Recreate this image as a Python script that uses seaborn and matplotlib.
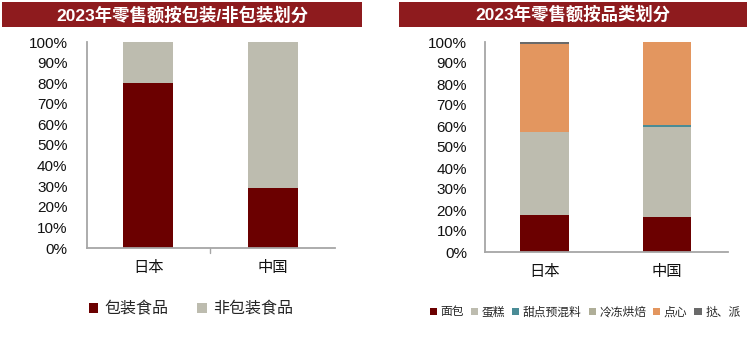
import numpy as np
import pandas as pd
import seaborn as sns
import matplotlib
matplotlib.use("Agg")
import matplotlib.pyplot as plt
from matplotlib.patches import Rectangle, Patch
from matplotlib.ticker import FuncFormatter

# ---- data (% of 2023 retail sales) ----
regions = ["日本", "中国"]

pack_labels = ["包装食品", "非包装食品"]
packaged = [80.0, 29.0]
non_packaged = [20.0, 71.0]

cat_labels = ["面包", "蛋糕", "甜点预混料", "冷冻烘焙", "点心", "挞、派"]
bread = [17.6, 16.8]
cake = [39.7, 42.8]
premix = [0.0, 0.8]
frozen = [0.0, 0.0]
dessert = [41.9, 39.6]
tart = [0.8, 0.0]

titles = ["2023年零售额按包装/非包装划分", "2023年零售额按品类划分"]

# ---- style ----
sns.set_theme(style="white")
plt.rcParams["font.family"] = ["Liberation Sans", "Noto Sans CJK SC", "DejaVu Sans"]

RED_DARK = "#6B0000"
GREY = "#BDBCAF"
pack_colors = [RED_DARK, GREY]
cat_colors = [RED_DARK, GREY, "#4A8C96", "#AFAE98", "#E3965F", "#6A6A6A"]
AXIS_GREY = "#A6A6A6"
TITLE_RED = "#8E1B1E"

W, H = 753, 339
fig = plt.figure(figsize=(W / 100, H / 100), dpi=100)


def px_axes(x0, y0, x1, y1):
    return fig.add_axes([x0 / W, 1 - y1 / H, (x1 - x0) / W, (y1 - y0) / H])


def stacked(ax, series, colors):
    # draw cumulative totals from the top layer down so each segment shows
    cum = np.cumsum(np.array(series), axis=0)
    for i in range(len(series) - 1, -1, -1):
        df = pd.DataFrame({"region": regions, "v": cum[i]})
        sns.barplot(data=df, x="region", y="v", color=colors[i], width=0.4,
                    saturation=1, linewidth=0, ax=ax)


def style_axes(ax, pad, mid_tick):
    ax.set_ylim(0, 100)
    ax.set_xlim(-0.49, 1.5)
    ax.set_yticks(np.arange(0, 101, 10))
    ax.yaxis.set_major_formatter(FuncFormatter(lambda v, p: f"{v:.0f}%"))
    ax.set_xlabel("")
    ax.set_ylabel("")
    for s in ["top", "right"]:
        ax.spines[s].set_visible(False)
    for s in ["left", "bottom"]:
        ax.spines[s].set_color(AXIS_GREY)
        ax.spines[s].set_linewidth(1.3)
    ax.tick_params(axis="y", length=0, pad=pad, labelsize=11, colors="#111111")
    ax.tick_params(axis="x", length=0, pad=8, labelsize=11, colors="#111111")
    for t in ax.get_xticklabels():
        t.set_fontfamily(["Noto Sans CJK SC"])
    if mid_tick:
        ax.plot([0.5, 0.5], [0, -2.5], color=AXIS_GREY, lw=1.0,
                clip_on=False, transform=ax.transData)
    ax.set_facecolor("white")


# left panel
ax1 = px_axes(87, 42, 335, 248)
stacked(ax1, [packaged, non_packaged], pack_colors)
style_axes(ax1, pad=14, mid_tick=True)

# right panel
ax2 = px_axes(485, 42, 728, 252)
stacked(ax2, [bread, cake, premix, frozen, dessert, tart], cat_colors)
style_axes(ax2, pad=13, mid_tick=False)

# title bars
for (x0, x1), title in zip([(2, 362), (399, 747)], titles):
    fig.patches.append(Rectangle((x0 / W, 1 - 27 / H), (x1 - x0) / W, 25 / H,
                                 transform=fig.transFigure, facecolor=TITLE_RED,
                                 edgecolor="none", zorder=0))
    fig.text((x0 + x1) / 2 / W, 1 - 14.5 / H, title, ha="center", va="center",
             color="white", fontsize=12.5, fontweight="bold",
             family=["Liberation Sans", "Noto Sans CJK SC"])

# legends
h1 = [Patch(facecolor=c, edgecolor="none") for c in pack_colors]
fig.legend(h1, pack_labels, loc="center", bbox_to_anchor=(191 / W, 1 - 309 / H),
           ncol=2, frameon=False, handlelength=0.6, handleheight=0.6,
           handletextpad=0.4, columnspacing=1.8,
           prop={"family": "Noto Sans CJK SC", "size": 11.5})

h2 = [Patch(facecolor=c, edgecolor="none") for c in cat_colors]
fig.legend(h2, cat_labels, loc="center", bbox_to_anchor=(585 / W, 1 - 312 / H),
           ncol=6, frameon=False, handlelength=0.6, handleheight=0.6,
           handletextpad=0.3, columnspacing=0.6,
           prop={"family": "Noto Sans CJK SC", "size": 8.5})

fig.savefig("out.png", dpi=100, facecolor="white")
